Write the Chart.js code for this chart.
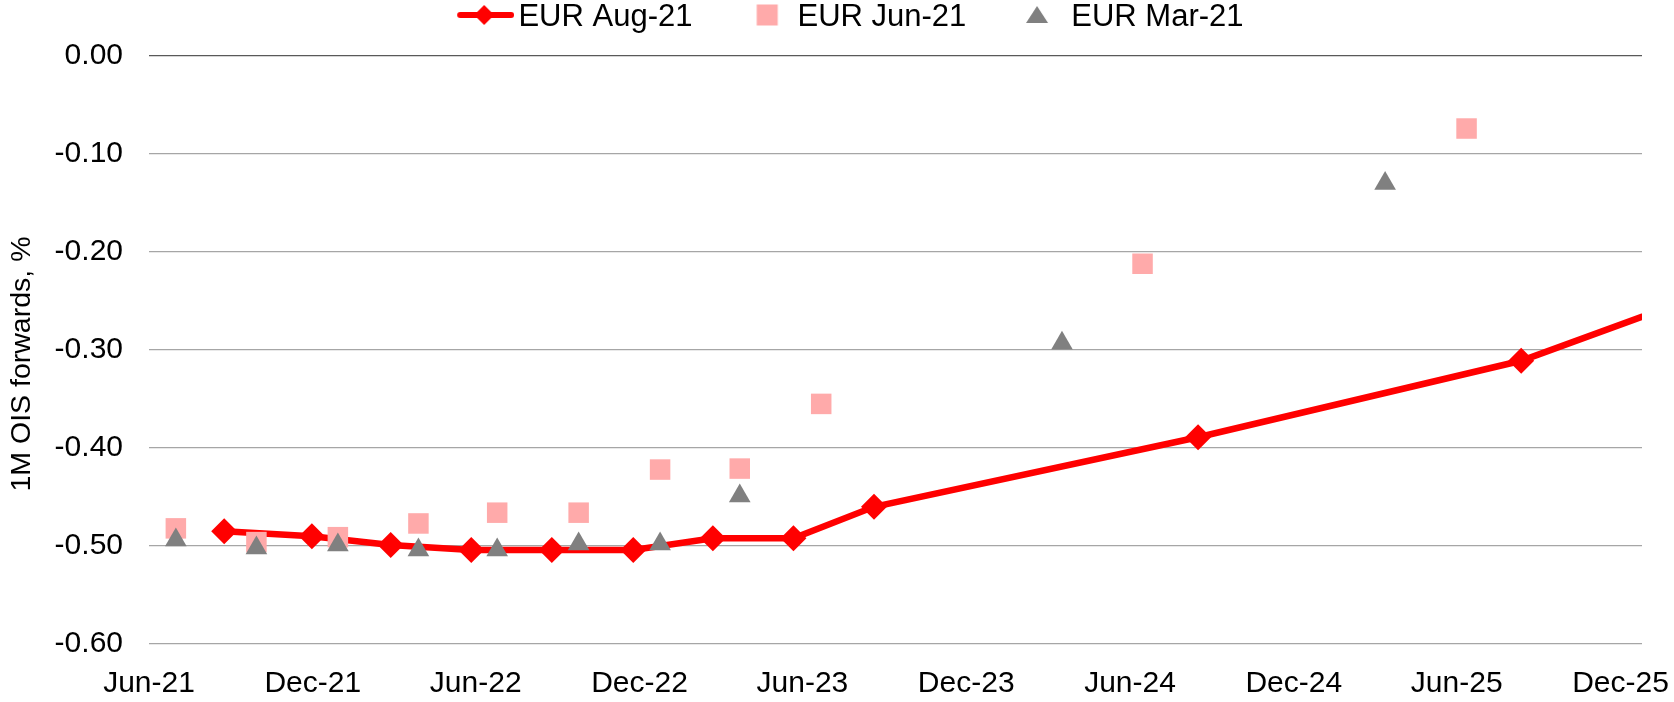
<!DOCTYPE html>
<html>
<head>
<meta charset="utf-8">
<title>EUR 1M OIS forwards</title>
<script src="https://cdn.jsdelivr.net/npm/chart.js@4.4.0/dist/chart.umd.min.js"></script>
<style>
  html, body { margin: 0; padding: 0; background: #fff; }
</style>
</head>
<body>
<canvas id="oisChart" width="1674" height="702"></canvas>
<script>
// x values are days after 1-Jun-2021
const xTickDays = [0, 183, 365, 548, 730, 913, 1096, 1279, 1461, 1644];
const xTickLabels = ['Jun-21', 'Dec-21', 'Jun-22', 'Dec-22', 'Jun-23', 'Dec-23', 'Jun-24', 'Dec-24', 'Jun-25', 'Dec-25'];
const xMaxDay = 1668;

const yTicks = [0, -0.1, -0.2, -0.3, -0.4, -0.5, -0.6];

const seriesNames = ['EUR Aug-21', 'EUR Jun-21', 'EUR Mar-21'];

// EUR Aug-21 (line + diamonds), last point lies past the axis end
const augDays = [84, 182, 270, 360, 450, 541, 630, 720, 810, 1172, 1533, 1897];
const augValues = [-0.485, -0.490, -0.499, -0.504, -0.504, -0.504, -0.492, -0.492, -0.460, -0.389, -0.311, -0.190];

// EUR Jun-21 (squares)
const junDays = [30, 120, 211, 301, 389, 480, 571, 660, 751, 1110, 1472];
const junValues = [-0.482, -0.496, -0.491, -0.477, -0.466, -0.466, -0.422, -0.421, -0.355, -0.212, -0.074];

// EUR Mar-21 (triangles)
const marDays = [30, 120, 211, 301, 389, 480, 571, 660, 1020, 1381];
const marValues = [-0.494, -0.502, -0.499, -0.504, -0.504, -0.498, -0.498, -0.449, -0.293, -0.130];

const toPoints = (xs, ys) => xs.map((x, i) => ({ x: x, y: ys[i] }));

// little canvases used as legend symbols
function makeIcon(draw) {
  const c = document.createElement('canvas');
  c.width = 112;
  c.height = 32;
  const g = c.getContext('2d');
  draw(g);
  return c;
}

const iconY = 14;
const legendIcons = [
  makeIcon(g => {
    g.strokeStyle = '#ff0000';
    g.lineWidth = 6;
    g.lineCap = 'round';
    g.beginPath();
    g.moveTo(58, iconY);
    g.lineTo(109, iconY);
    g.stroke();
    g.fillStyle = '#ff0000';
    g.beginPath();
    g.moveTo(82, iconY - 10);
    g.lineTo(92, iconY);
    g.lineTo(82, iconY + 10);
    g.lineTo(72, iconY);
    g.closePath();
    g.fill();
  }),
  makeIcon(g => {
    g.fillStyle = '#ffaaaa';
    g.fillRect(75.5, iconY - 10.5, 21, 21);
  }),
  makeIcon(g => {
    g.fillStyle = '#808080';
    g.beginPath();
    g.moveTo(82, iconY - 9);
    g.lineTo(93, iconY + 8);
    g.lineTo(71, iconY + 8);
    g.closePath();
    g.fill();
  })
];

// fixed legend band so the plot starts where it does in the original
const legendHeight = 54.5;
const legendBand = {
  id: 'legendBand',
  beforeLayout(chart) {
    const lg = chart.legend;
    if (lg && !lg._bandFixed) {
      const fit = lg.fit;
      lg.fit = function () {
        fit.call(this);
        this.height = legendHeight;
      };
      lg._bandFixed = true;
    }
  },
  afterLayout(chart) {
    // the axis title sits a bit below the middle of the plot in the original
    const s = chart.scales.y;
    if (s && !s._titleShifted) {
      const drawTitle = s.drawTitle;
      s.drawTitle = function () {
        this.ctx.save();
        this.ctx.translate(0, 14);
        drawTitle.call(this);
        this.ctx.restore();
      };
      s._titleShifted = true;
    }
  }
};

Chart.defaults.font.family = "'Liberation Sans', Arial, sans-serif";
Chart.defaults.color = '#000';

const ctx = document.getElementById('oisChart').getContext('2d');
const oisChart = new Chart(ctx, {
  type: 'line',
  data: {
    datasets: [
      {
        label: seriesNames[0],
        data: toPoints(augDays, augValues),
        borderColor: '#ff0000',
        backgroundColor: '#ff0000',
        borderWidth: 6.5,
        pointStyle: 'rectRot',
        pointRadius: 13,
        pointBorderWidth: 0,
        pointHoverRadius: 13,
        tension: 0,
        order: 3
      },
      {
        label: seriesNames[1],
        data: toPoints(junDays, junValues),
        showLine: false,
        backgroundColor: '#ffaaaa',
        borderColor: '#ffaaaa',
        pointStyle: 'rect',
        pointRadius: 14.5,
        pointBorderWidth: 0,
        pointHoverRadius: 14.5,
        order: 2
      },
      {
        label: seriesNames[2],
        data: toPoints(marDays, marValues),
        showLine: false,
        backgroundColor: '#808080',
        borderColor: '#808080',
        pointStyle: 'triangle',
        pointRadius: 12.5,
        pointBorderWidth: 0,
        pointHoverRadius: 12.5,
        order: 1
      }
    ]
  },
  options: {
    responsive: false,
    animation: false,
    devicePixelRatio: 1,
    layout: {
      autoPadding: false,
      padding: { top: 1.5, left: 15, right: 32, bottom: 0 }
    },
    plugins: {
      tooltip: { enabled: false },
      legend: {
        position: 'top',
        align: 'center',
        labels: {
          usePointStyle: true,
          pointStyleWidth: 89.5,
          padding: 0,
          color: '#000',
          font: { size: 31 },
          generateLabels: () => seriesNames.map((name, i) => ({
            text: name,
            pointStyle: legendIcons[i],
            fillStyle: 'rgba(0,0,0,0)',
            strokeStyle: 'rgba(0,0,0,0)',
            lineWidth: 0,
            hidden: false,
            datasetIndex: i
          }))
        }
      }
    },
    scales: {
      x: {
        type: 'linear',
        min: 0,
        max: xMaxDay,
        grid: { display: false },
        border: { display: false },
        afterBuildTicks: (scale) => {
          scale.ticks = xTickDays.map(v => ({ value: v }));
        },
        afterFit: (scale) => {
          scale.height = 58;
          scale.paddingLeft = 0;
          scale.paddingRight = 0;
        },
        ticks: {
          autoSkip: false,
          maxRotation: 0,
          padding: 14,
          color: '#000',
          font: { size: 30 },
          callback: (value, index) => xTickLabels[index]
        }
      },
      y: {
        type: 'linear',
        min: -0.6,
        max: 0,
        afterBuildTicks: (scale) => {
          scale.ticks = yTicks.map(v => ({ value: v }));
        },
        afterFit: (scale) => {
          scale.width = 134;
        },
        grid: {
          drawTicks: false,
          lineWidth: 1.3,
          color: (c) => (c.tick && c.tick.value === 0 ? '#595959' : '#a6a6a6')
        },
        border: { display: false },
        ticks: {
          padding: 26,
          color: '#000',
          font: { size: 30 },
          callback: (value) => value.toFixed(2)
        },
        title: {
          display: true,
          text: '1M OIS forwards, %',
          color: '#000',
          font: { size: 28.5 },
          padding: { top: -10, bottom: 0 }
        }
      }
    }
  },
  plugins: [legendBand]
});
</script>
</body>
</html>
